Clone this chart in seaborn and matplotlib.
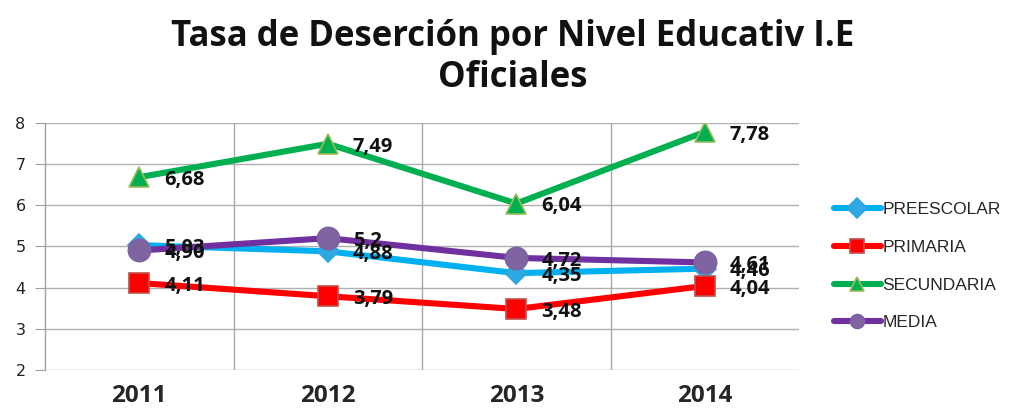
import matplotlib
matplotlib.use("Agg")
import matplotlib.pyplot as plt
import seaborn as sns
import pandas as pd

# Datos
anios = ["2011", "2012", "2013", "2014"]
preescolar = [5.03, 4.88, 4.35, 4.46]
primaria = [4.11, 3.79, 3.48, 4.04]
secundaria = [6.68, 7.49, 6.04, 7.78]
media = [4.90, 5.2, 4.72, 4.61]
etiquetas_y = [2, 3, 4, 5, 6, 7, 8]

series = {
    "PREESCOLAR": preescolar,
    "PRIMARIA": primaria,
    "SECUNDARIA": secundaria,
    "MEDIA": media,
}

# Estilo de cada serie: color de línea, marcador, relleno, borde, tamaño
estilos = {
    "PREESCOLAR": ("#00B0F0", "D", "#2EA8E0", "#2EA8E0", 11),
    "PRIMARIA": ("#FF0000", "s", "#FF0000", "#C0504D", 14),
    "SECUNDARIA": ("#00B050", "^", "#00B050", "#9BBB59", 15),
    "MEDIA": ("#7030A0", "o", "#8064A2", "#7B62A0", 16),
}

sns.set_style("white")
plt.rcParams["font.family"] = ["Open Sans", "DejaVu Sans"]

fig = plt.figure(figsize=(10.11, 4.12), dpi=100)
ax = fig.add_axes([0.0445, 0.102, 0.746, 0.600])

x = list(range(len(anios)))
for nombre, valores in series.items():
    color, marker, relleno, borde, ms = estilos[nombre]
    df = pd.DataFrame({"x": x, "y": valores})
    sns.lineplot(data=df, x="x", y="y", ax=ax, color=color, linewidth=4.4,
                 marker=marker, markersize=ms, markerfacecolor=relleno,
                 markeredgecolor=borde, markeredgewidth=1.2, label=nombre,
                 zorder=3)
    for xi, v in zip(x, valores):
        texto = "5,2" if v == 5.2 else f"{v:.2f}".replace(".", ",")
        ax.annotate(texto, (xi, v), xytext=(18, -2), textcoords="offset points",
                    ha="left", va="center", fontsize=14.5, fontweight="bold",
                    color="#111111", zorder=4)

ax.set_xlim(-0.5, 3.5)
ax.set_ylim(2, 8)
ax.set_yticks(etiquetas_y)
ax.set_xticks(x)
ax.set_xticklabels(anios, fontsize=17.5, fontweight="bold")
ax.tick_params(axis="y", labelsize=11.5, direction="out", length=7, color="#A0A0A0",
               left=True, pad=7, labelcolor="#222222")
ax.tick_params(axis="x", length=0, pad=10)
for t in ax.get_yticklabels():
    t.set_family(["DejaVu Sans"])
ax.set_xlabel("")
ax.set_ylabel("")

# Rejilla
ax.grid(False)
for yv in etiquetas_y:
    ax.axhline(yv, color="#B0B0B0", linewidth=1.0, zorder=1)
for xv in [0.5, 1.5, 2.5]:
    ax.axvline(xv, color="#A8A8A8", linewidth=1.0, zorder=1)
for lado in ["top", "right", "bottom"]:
    ax.spines[lado].set_visible(False)
ax.spines["left"].set_color("#A0A0A0")
ax.spines["left"].set_linewidth(1.0)

fig.suptitle("Tasa de Deserción por Nivel Educativ I.E\nOficiales", x=0.507, y=0.955,
             fontsize=25, fontweight="bold", linespacing=1.2, color="#111111")

leg = ax.legend(loc="center left", bbox_to_anchor=(1.025, 0.42), frameon=False,
                labelspacing=1.3, handlelength=2.7, handletextpad=0.1,
                prop={"family": "Liberation Sans", "size": 12.5})
for h in leg.legend_handles:
    h.set_markersize(10)

fig.savefig("out.png", dpi=100)
